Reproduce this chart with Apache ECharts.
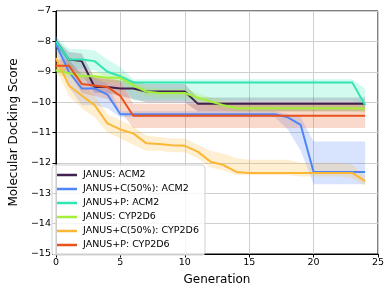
<!DOCTYPE html>
<html><head><meta charset="utf-8">
<script src="https://cdn.jsdelivr.net/npm/echarts@6/dist/echarts.min.js"></script>
<style>html,body{margin:0;padding:0;background:#fff}#c{width:391px;height:293px}</style>
</head><body><div id="c"></div>
<script>
const generations = [0,1,2,3,4,5,6,7,8,9,10,11,12,13,14,15,16,17,18,19,20,21,22,23,24];
const seriesNames = ['JANUS: ACM2','JANUS+C(50%): ACM2','JANUS+P: ACM2','JANUS: CYP2D6','JANUS+C(50%): CYP2D6','JANUS+P: CYP2D6'];
const seriesColors = ['#40214f','#4f86f7','#30e6b2','#a3ef3a','#fbb735','#e8521c'];

const janusAcm2      = [-8.0,-8.6,-8.65,-9.5,-9.5,-9.55,-9.55,-9.65,-9.65,-9.65,-9.65,-10.05,-10.05,-10.05,-10.05,-10.05,-10.05,-10.05,-10.05,-10.05,-10.05,-10.05,-10.05,-10.05,-10.05];
const janusAcm2Low   = [-8.1,-8.9,-9.1,-9.7,-9.7,-9.8,-9.9,-10.0,-10.0,-10.0,-10.0,-10.3,-10.3,-10.3,-10.3,-10.3,-10.3,-10.3,-10.3,-10.3,-10.3,-10.3,-10.3,-10.3,-10.3];
const janusAcm2High  = [-7.95,-8.35,-8.4,-9.2,-9.25,-9.3,-9.3,-9.4,-9.4,-9.4,-9.4,-9.85,-9.85,-9.85,-9.85,-9.85,-9.85,-9.85,-9.85,-9.85,-9.85,-9.85,-9.85,-9.85,-9.85];

const janusCAcm2     = [-8.1,-9.0,-9.55,-9.55,-9.75,-10.4,-10.4,-10.4,-10.4,-10.4,-10.4,-10.4,-10.4,-10.4,-10.4,-10.4,-10.4,-10.4,-10.5,-10.75,-12.3,-12.3,-12.3,-12.3,-12.3];
const janusCAcm2Low  = [-8.3,-9.5,-10.1,-10.1,-10.2,-10.5,-10.5,-10.5,-10.5,-10.5,-10.5,-10.5,-10.5,-10.5,-10.5,-10.5,-10.5,-10.5,-10.9,-11.6,-12.7,-12.7,-12.7,-12.7,-12.7];
const janusCAcm2High = [-7.8,-8.6,-9.1,-9.2,-9.4,-10.3,-10.3,-10.3,-10.3,-10.3,-10.3,-10.3,-10.3,-10.3,-10.3,-10.3,-10.3,-10.3,-10.4,-10.5,-11.3,-11.3,-11.3,-11.3,-11.3];

const janusPAcm2     = [-8.0,-8.6,-8.6,-8.65,-9.0,-9.15,-9.35,-9.35,-9.35,-9.35,-9.35,-9.35,-9.35,-9.35,-9.35,-9.35,-9.35,-9.35,-9.35,-9.35,-9.35,-9.35,-9.35,-9.35,-10.1];
const janusPAcm2Low  = [-8.1,-8.9,-8.9,-8.95,-9.2,-9.35,-9.95,-9.95,-9.95,-9.95,-9.95,-9.95,-9.95,-9.95,-9.95,-9.95,-9.95,-9.95,-9.95,-9.95,-9.95,-9.95,-9.95,-9.95,-10.15];
const janusPAcm2High = [-7.85,-8.25,-8.25,-8.3,-8.6,-8.85,-9.25,-9.25,-9.25,-9.25,-9.25,-9.25,-9.25,-9.25,-9.25,-9.25,-9.25,-9.25,-9.25,-9.25,-9.25,-9.25,-9.25,-9.25,-9.55];

const janusCyp       = [-8.95,-9.05,-9.15,-9.15,-9.2,-9.2,-9.45,-9.65,-9.7,-9.7,-9.7,-9.85,-9.98,-10.1,-10.2,-10.2,-10.2,-10.2,-10.2,-10.2,-10.2,-10.2,-10.2,-10.2,-10.22];
const janusCypLow    = [-9.1,-9.2,-9.3,-9.3,-9.35,-9.35,-9.6,-9.8,-9.85,-9.85,-9.85,-10.0,-10.12,-10.25,-10.32,-10.32,-10.32,-10.32,-10.32,-10.32,-10.32,-10.32,-10.32,-10.32,-10.35];
const janusCypHigh   = [-8.8,-8.9,-9.0,-9.0,-9.05,-9.05,-9.3,-9.5,-9.55,-9.55,-9.55,-9.7,-9.85,-9.95,-10.08,-10.08,-10.08,-10.08,-10.08,-10.08,-10.08,-10.08,-10.08,-10.08,-10.1];

const janusCCyp      = [-8.55,-9.45,-9.78,-10.1,-10.7,-10.9,-11.03,-11.35,-11.38,-11.42,-11.44,-11.63,-11.96,-12.07,-12.3,-12.33,-12.33,-12.33,-12.33,-12.33,-12.33,-12.33,-12.33,-12.33,-12.6];
const janusCCypLow   = [-8.9,-9.8,-10.2,-10.5,-11.0,-11.2,-11.4,-11.6,-11.6,-11.65,-11.65,-11.85,-12.15,-12.25,-12.4,-12.4,-12.4,-12.4,-12.4,-12.45,-12.45,-12.45,-12.45,-12.5,-12.75];
const janusCCypHigh  = [-8.2,-9.1,-9.4,-9.8,-10.4,-10.6,-10.8,-11.1,-11.15,-11.2,-11.2,-11.4,-11.6,-11.7,-11.85,-11.9,-11.9,-11.9,-11.9,-12.0,-12.0,-12.0,-12.0,-12.05,-12.45];

const janusPCyp      = [-8.8,-8.8,-9.4,-9.45,-9.5,-9.8,-10.45,-10.45,-10.45,-10.45,-10.45,-10.45,-10.45,-10.45,-10.45,-10.45,-10.45,-10.45,-10.45,-10.45,-10.45,-10.45,-10.45,-10.45,-10.45];
const janusPCypLow   = [-9.0,-9.0,-9.7,-9.8,-9.9,-10.3,-10.85,-10.85,-10.85,-10.85,-10.85,-10.85,-10.85,-10.85,-10.85,-10.85,-10.85,-10.85,-10.85,-10.85,-10.85,-10.85,-10.85,-10.85,-10.85];
const janusPCypHigh  = [-8.6,-8.6,-9.1,-9.15,-9.2,-9.3,-10.05,-10.05,-10.05,-10.05,-10.05,-10.05,-10.05,-10.05,-10.05,-10.05,-10.05,-10.05,-10.05,-10.05,-10.05,-10.05,-10.05,-10.05,-10.05];

const xTicks = [0,5,10,15,20,25];
const yTicks = [-15,-14,-13,-12,-11,-10,-9,-8,-7];

const means = [janusAcm2, janusCAcm2, janusPAcm2, janusCyp, janusCCyp, janusPCyp];
const lows  = [janusAcm2Low, janusCAcm2Low, janusPAcm2Low, janusCypLow, janusCCypLow, janusPCypLow];
const highs = [janusAcm2High, janusCAcm2High, janusPAcm2High, janusCypHigh, janusCCypHigh, janusPCypHigh];

function rgba(hex, a){const n=parseInt(hex.slice(1),16);return `rgba(${(n>>16)&255},${(n>>8)&255},${n&255},${a})`;}
const pair = arr => generations.map((g,i)=>[g,arr[i]]);

const series = [];
// shaded bands drawn as polygons through the chart's coordinate system
series.push({
  type:'custom', name:'_bands', silent:true, z:1,
  data: means.map((m,k)=>[generations[0], m[0], k]),
  encode:{x:0,y:1},
  renderItem:(params, api)=>{
    const k = api.value(2);
    const pts = [];
    generations.forEach((g,i)=>pts.push(api.coord([g, highs[k][i]])));
    for(let i=generations.length-1;i>=0;i--) pts.push(api.coord([generations[i], lows[k][i]]));
    return {type:'polygon', shape:{points:pts}, style:{fill:rgba(seriesColors[k],0.22), stroke:'none'}};
  }
});
means.forEach((m,k)=>{
  series.push({type:'line',name:seriesNames[k],data:pair(m),symbol:'none',lineStyle:{color:seriesColors[k],width:2},itemStyle:{color:seriesColors[k]},z:3+k});
});

const fmt = v => v<0 ? '\u2212'+Math.abs(v) : String(v);
const chart = echarts.init(document.getElementById('c'));
chart.setOption({
  animation:false,
  textStyle:{fontFamily:'DejaVu Sans'},
  grid:{left:50,top:11,width:328,height:243,show:true,borderColor:'#000',borderWidth:1,backgroundColor:'transparent'},
  xAxis:{type:'value',min:0,max:25,interval:5,
    name:'Generation',nameLocation:'middle',nameGap:20,nameTextStyle:{fontSize:12,color:'#000',fontFamily:'DejaVu Sans'},
    axisLine:{lineStyle:{color:'#000',width:1}},axisTick:{show:true,length:3.5,lineStyle:{color:'#000'}},
    axisLabel:{fontSize:9.5,color:'#000',margin:4,formatter:fmt},
    splitLine:{show:true,lineStyle:{color:'#cfcfcf',width:1}}},
  yAxis:{type:'value',min:-15,max:-7,interval:1,
    name:'Molecular Docking Score',nameLocation:'middle',nameGap:31,nameTextStyle:{fontSize:12,color:'#000',fontFamily:'DejaVu Sans'},
    axisLine:{lineStyle:{color:'#000',width:1}},axisTick:{show:true,length:3.5,lineStyle:{color:'#000'}},
    axisLabel:{fontSize:9.5,color:'#000',margin:5,formatter:fmt},
    splitLine:{show:true,lineStyle:{color:'#cfcfcf',width:1}}},
  legend:{data:seriesNames,orient:'vertical',left:52,top:165,itemWidth:20,itemHeight:2.5,icon:'rect',itemGap:2,
    padding:[4,6,4,5],backgroundColor:'rgba(255,255,255,0.8)',borderColor:'#d0d0d0',borderWidth:1,borderRadius:3,
    textStyle:{fontSize:9.5,color:'#000',fontFamily:'DejaVu Sans',lineHeight:12,padding:[0,0,0,1]}},
  series
});
</script></body></html>
